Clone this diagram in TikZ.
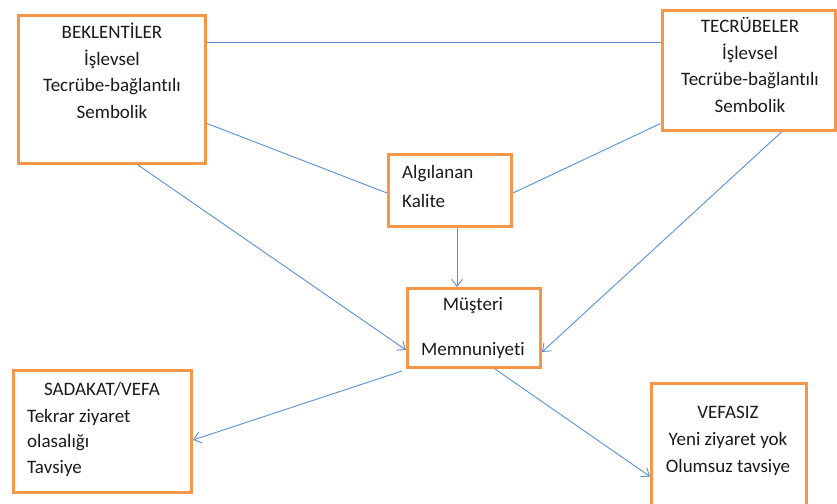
\documentclass[tikz,border=0pt]{standalone}
\usepackage{fontspec}
\setmainfont{Carlito}[Ligatures={NoCommon,NoContextual}]
\usetikzlibrary{arrows.meta}
\definecolor{boxorange}{HTML}{F79646}
\definecolor{lineblue}{HTML}{5B8FD0}
\definecolor{txt}{HTML}{1A1A1A}
\tikzset{
  box/.style={draw=boxorange, line width=3pt, fill=white, inner sep=0pt},
  lbl/.style={text=txt, inner sep=0pt, anchor=base, font=\fontsize{19}{26.5}\selectfont},
  conn/.style={draw=lineblue, line width=0.9pt},
  arr/.style={conn, -{Straight Barb[length=7pt,width=11pt,line width=0.9pt]}}
}
\begin{document}
\begin{tikzpicture}[x=1pt,y=-1pt]
\useasboundingbox (0,0) rectangle (837,503);
\clip (0,0) rectangle (837,503);
\fill[white] (0,0) rectangle (837,503);
% boxes
\node[box, minimum width=187pt, minimum height=148pt] (bek) at (112,89.5) {};
\node[box, minimum width=173pt, minimum height=120pt] (tec) at (748.5,70.5) {};
\node[box, minimum width=123pt, minimum height=72pt] (alg) at (450,190.5) {};
\node[box, minimum width=133pt, minimum height=79pt] (mus) at (474,328) {};
\node[box, minimum width=178pt, minimum height=122pt] (sad) at (102.5,431.5) {};
\node[box, minimum width=155pt, minimum height=145pt] (vef) at (729,456) {};
% texts (anchor = baseline of the last line)
\node[lbl, align=center] (bekt) at (112,118) {BEKLENTİLER\\İşlevsel\\Tecrübe-bağlantılı\\Sembolik};
\node[lbl, align=center] (tect) at (750,112) {TECRÜBELER\\İşlevsel\\Tecrübe-bağlantılı\\Sembolik};
\node[lbl, align=left, anchor=base west, font=\fontsize{19}{29}\selectfont] (algt) at (402,207) {Algılanan\\Kalite};
\node[lbl, align=center, font=\fontsize{19}{45}\selectfont] (must) at (473,355) {Müşteri\\Memnuniyeti};
\node[lbl] (sadt) at (102,395) {SADAKAT/VEFA};
\node[lbl, align=left, anchor=base west, font=\fontsize{19}{25.5}\selectfont] (sadl) at (27,473) {Tekrar ziyaret\\olasalığı\\Tavsiye};
\node[lbl, align=center, font=\fontsize{19}{27}\selectfont] (veft) at (728,472) {VEFASIZ\\Yeni ziyaret yok\\Olumsuz tavsiye};
% connectors
\draw[conn] ([yshift=-28.5pt]bek.north east) -- ([yshift=-28.5pt]bek.north east -| tec.west);
\draw[conn] ([yshift=-109.5pt]bek.north east) -- ([yshift=-2.5pt]alg.west);
\draw[conn] ([yshift=-114.5pt]tec.north west) -- ([yshift=-2.5pt]alg.east);
\draw[arr] ([xshift=7pt]alg.south) -- ([xshift=7pt]alg.south |- mus.north);
\draw[arr] ([xshift=26pt]bek.south) -- ([yshift=-22pt]mus.west);
\draw[arr] ([xshift=33pt]tec.south) -- ([yshift=-24pt]mus.east);
\draw[arr] ([xshift=-4pt,yshift=-2pt]mus.south west) -- ([yshift=-8.5pt]sad.east);
\draw[arr] ([xshift=21pt]mus.south) -- ([yshift=-94.5pt]vef.north west);
\end{tikzpicture}
\end{document}
